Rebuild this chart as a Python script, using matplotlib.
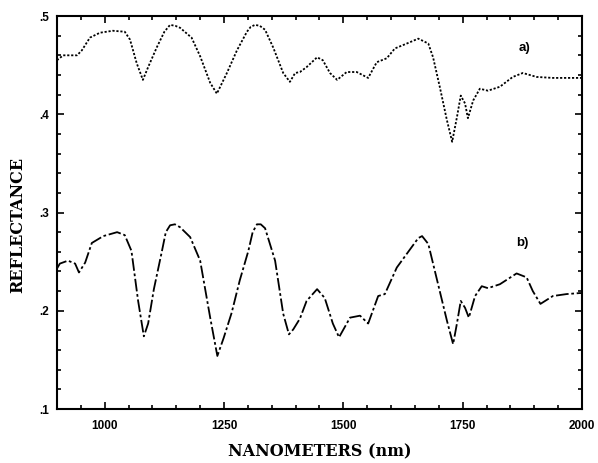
import matplotlib
matplotlib.use("Agg")
import matplotlib.pyplot as plt
from matplotlib.ticker import MultipleLocator, FixedLocator

# Curve a) (dotted)
wl_a = [900, 913, 942, 952, 969, 990, 1017, 1042, 1053, 1067, 1080, 1091, 1109, 1125,
        1137, 1148, 1158, 1182, 1200, 1221, 1235, 1256, 1277, 1298, 1306, 1315, 1325,
        1336, 1353, 1374, 1388, 1399, 1409, 1423, 1445, 1457, 1472, 1487, 1507, 1528,
        1552, 1570, 1591, 1608, 1633, 1657, 1678, 1688, 1702, 1717, 1728, 1738, 1746,
        1755, 1761, 1772, 1786, 1803, 1828, 1855, 1876, 1905, 1939, 1991, 2000]
refl_a = [0.455, 0.460, 0.460, 0.465, 0.478, 0.483, 0.485, 0.484, 0.476, 0.452, 0.435,
          0.448, 0.468, 0.484, 0.491, 0.490, 0.488, 0.478, 0.459, 0.432, 0.421, 0.442,
          0.465, 0.484, 0.489, 0.491, 0.490, 0.486, 0.468, 0.442, 0.433, 0.442, 0.443,
          0.448, 0.458, 0.455, 0.442, 0.435, 0.443, 0.443, 0.437, 0.453, 0.457, 0.467,
          0.472, 0.477, 0.472, 0.458, 0.428, 0.394, 0.372, 0.397, 0.419, 0.411, 0.396,
          0.414, 0.426, 0.424, 0.428, 0.438, 0.442, 0.438, 0.437, 0.437, 0.437]

# Curve b) (dash-dot)
wl_b = [900, 906, 923, 938, 946, 959, 973, 997, 1026, 1042, 1056, 1070, 1082, 1091,
        1103, 1120, 1128, 1137, 1147, 1158, 1179, 1200, 1221, 1236, 1249, 1266, 1283,
        1301, 1310, 1319, 1327, 1336, 1357, 1374, 1386, 1395, 1409, 1423, 1445, 1461,
        1478, 1491, 1514, 1535, 1552, 1573, 1587, 1612, 1633, 1657, 1665, 1678, 1702,
        1717, 1730, 1738, 1746, 1755, 1763, 1776, 1790, 1803, 1828, 1863, 1884, 1897,
        1913, 1939, 1968, 1995, 2000]
refl_b = [0.243, 0.248, 0.251, 0.248, 0.239, 0.249, 0.269, 0.276, 0.280, 0.277, 0.261,
          0.210, 0.174, 0.187, 0.222, 0.261, 0.280, 0.287, 0.288, 0.285, 0.275, 0.251,
          0.193, 0.154, 0.172, 0.198, 0.231, 0.261, 0.280, 0.288, 0.288, 0.284, 0.251,
          0.197, 0.176, 0.181, 0.192, 0.210, 0.222, 0.213, 0.187, 0.173, 0.193, 0.195,
          0.187, 0.215, 0.217, 0.244, 0.258, 0.274, 0.276, 0.268, 0.220, 0.190, 0.166,
          0.187, 0.210, 0.203, 0.193, 0.215, 0.225, 0.223, 0.227, 0.238, 0.234, 0.220,
          0.207, 0.215, 0.217, 0.218, 0.218]

x_ticks = [1000, 1250, 1500, 1750, 2000]
x_tick_labels = ["1000", "1250", "1500", "1750", "2000"]
y_ticks = [0.1, 0.2, 0.3, 0.4, 0.5]
y_tick_labels = [".1", ".2", ".3", ".4", ".5"]

fig = plt.figure(figsize=(5.98, 4.63), dpi=100)
ax = fig.add_axes([0.0953, 0.1166, 0.8779, 0.8488])

ax.plot(wl_a, refl_a, color="black", lw=1.3, linestyle=(0, (1.2, 1.0)))
ax.plot(wl_b, refl_b, color="black", lw=1.3, linestyle=(0, (7, 1.5, 1.5, 1.5)))

ax.set_xlim(900, 2000)
ax.set_ylim(0.1, 0.5)
ax.xaxis.set_major_locator(FixedLocator(x_ticks))
ax.set_xticklabels(x_tick_labels)
ax.xaxis.set_minor_locator(MultipleLocator(50))
ax.yaxis.set_major_locator(FixedLocator(y_ticks))
ax.set_yticklabels(y_tick_labels)
ax.yaxis.set_minor_locator(MultipleLocator(0.02))

ax.tick_params(which="both", direction="in", top=True, right=True, width=1.2)
ax.tick_params(which="major", length=5)
ax.tick_params(which="minor", length=3)
ax.tick_params(axis="x", which="major", pad=8)
ax.tick_params(axis="y", which="major", pad=6)
for lab in ax.get_xticklabels() + ax.get_yticklabels():
    lab.set_fontfamily("Liberation Sans")
    lab.set_fontweight("bold")
    lab.set_fontsize(8.5)
for sp in ax.spines.values():
    sp.set_linewidth(1.5)

ax.text(1880, 0.467, "a)", fontsize=9.5, fontweight="bold", family="Liberation Sans",
        ha="center", va="center")
ax.text(1876, 0.269, "b)", fontsize=9.5, fontweight="bold", family="Liberation Sans",
        ha="center", va="center")

ax.set_xlabel("NANOMETERS (nm)", fontsize=11.5, fontweight="bold", family="DejaVu Serif",
              va="center")
ax.xaxis.set_label_coords(0.5, -0.109)
ax.set_ylabel("REFLECTANCE", fontsize=11.5, fontweight="bold", family="DejaVu Serif",
              va="center")
ax.yaxis.set_label_coords(-0.0743, 0.468)

fig.savefig("out.png", dpi=100)
